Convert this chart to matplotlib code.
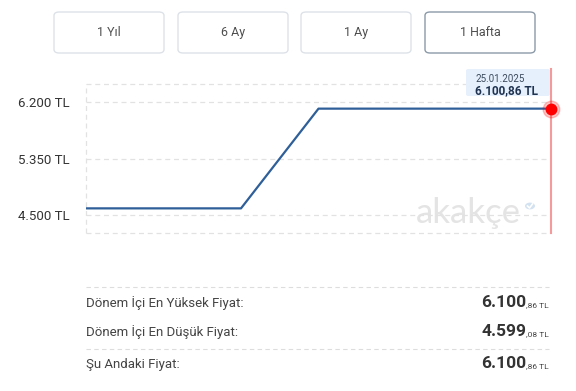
import matplotlib
matplotlib.use("Agg")
import matplotlib.pyplot as plt
from matplotlib.patches import FancyBboxPatch, Circle
from matplotlib.lines import Line2D

# one week of prices (TL)
dates = ["19.01.2025", "20.01.2025", "21.01.2025", "22.01.2025",
         "23.01.2025", "24.01.2025", "25.01.2025"]
prices = [4599.08, 4599.08, 4599.08, 6100.86, 6100.86, 6100.86, 6100.86]

yticks = [4500, 5350, 6200]
ytick_labels = ["4.500 TL", "5.350 TL", "6.200 TL"]

buttons = ["1 Yıl", "6 Ay", "1 Ay", "1 Hafta"]
selected = "1 Hafta"

stat_labels = ["Dönem İçi En Yüksek Fiyat:", "Dönem İçi En Düşük Fiyat:", "Şu Andaki Fiyat:"]
stat_main = ["6.100", "4.599", "6.100"]
stat_frac = [",86 TL", ",08 TL", ",86 TL"]

plt.rcParams['font.family'] = ['Roboto', 'DejaVu Sans']

W, H = 576, 391
fig = plt.figure(figsize=(W / 100, H / 100), dpi=100)
fig.patch.set_facecolor("white")


def fx(px):
    return px / W


def fy(py):
    return 1 - py / H


# range buttons
btn_x = [54, 178, 301, 425]
for lab, x0 in zip(buttons, btn_x):
    ec = "#8c9aa8" if lab == selected else "#dde2e8"
    box = FancyBboxPatch((fx(x0), fy(53)), fx(110), 41 / H,
                         boxstyle="round,pad=0,rounding_size=0.009",
                         transform=fig.transFigure, facecolor="white",
                         edgecolor=ec, linewidth=1.0)
    fig.patches.append(box)
    fig.text(fx(x0 + 55), fy(32.5), lab, ha="center", va="center",
             fontsize=9, color="#4f4f4f")

# price chart
ax = fig.add_axes([fx(86), fy(233), fx(465), 149 / H])
ax.patch.set_alpha(0)
x = list(range(len(dates)))
ax.plot(x, prices, color="#2f5f98", linewidth=1.6, zorder=3)
ax.set_xlim(0, len(dates) - 1)
ax.set_ylim(4228, 6472)
for s in ax.spines.values():
    s.set_visible(False)
ax.set_xticks([])
ax.set_yticks(yticks)
ax.set_yticklabels(ytick_labels, fontsize=9.5, color="#333333")
ax.tick_params(axis="y", length=0, pad=12)
for v in yticks + [4228, 6472]:
    ax.axhline(v, color="#e2e2e2", linewidth=0.9, linestyle=(0, (4, 3)), zorder=1, clip_on=False)
ax.axvline(0, color="#e2e2e2", linewidth=0.9, linestyle=(0, (4, 3)), zorder=1, clip_on=False)

# watermark
fig.text(fx(468), fy(223), "akakçe", ha="center", va="baseline", fontsize=25,
         family="Lato", fontweight="normal", color="#e4e4e4", zorder=-1)
fig.patches.append(Circle((fx(530), fy(206)), 5 / W, transform=fig.transFigure,
                          facecolor="#d3e2f0", edgecolor="none"))
fig.lines.append(Line2D([fx(527.5), fx(529.5), fx(532.5)], [fy(206), fy(208), fy(204)],
                        transform=fig.transFigure, color="white", linewidth=1.2))

# hover marker
last = len(dates) - 1
ax.axvline(last, ymin=0, ymax=(233 - 69) / 149, color="#f59a9a", linewidth=1.5,
           clip_on=False, zorder=4)
ax.plot([last], [prices[-1]], "o", markersize=12, color="#ff0000", alpha=0.22,
        clip_on=False, zorder=5)
ax.plot([last], [prices[-1]], "o", markersize=7.5, color="#ff0000", clip_on=False, zorder=6)

# tooltip
tip = FancyBboxPatch((fx(466), fy(96)), fx(84), 27 / H,
                     boxstyle="round,pad=0,rounding_size=0.004",
                     transform=fig.transFigure, facecolor="#e6f0fc", edgecolor="none")
fig.patches.append(tip)
fig.text(fx(475), fy(79), dates[-1], ha="left", va="center", fontsize=7, color="#3b4a5c")
fig.text(fx(475), fy(91), "6.100,86 TL", ha="left", va="center", fontsize=8.5,
         fontweight="bold", color="#1f3350")

# summary rows
for py in [287, 349]:
    fig.lines.append(Line2D([fx(86), fx(549)], [fy(py), fy(py)], transform=fig.transFigure,
                            color="#dddddd", linewidth=0.8, linestyle=(0, (4, 3))))

baselines = [307, 336, 368]
fig.canvas.draw()
renderer = fig.canvas.get_renderer()
for lab, main, frac, by in zip(stat_labels, stat_main, stat_frac, baselines):
    fig.text(fx(86), fy(by), lab, ha="left", va="baseline", fontsize=9.5, color="#444444")
    t = fig.text(fx(549), fy(by), frac, ha="right", va="baseline", fontsize=6, color="#444444")
    bb = t.get_window_extent(renderer)
    fig.text(bb.x0 / W, fy(by), main, ha="right", va="baseline", fontsize=12.5,
             fontweight="bold", color="#333333")

fig.savefig("out.png", dpi=100)
